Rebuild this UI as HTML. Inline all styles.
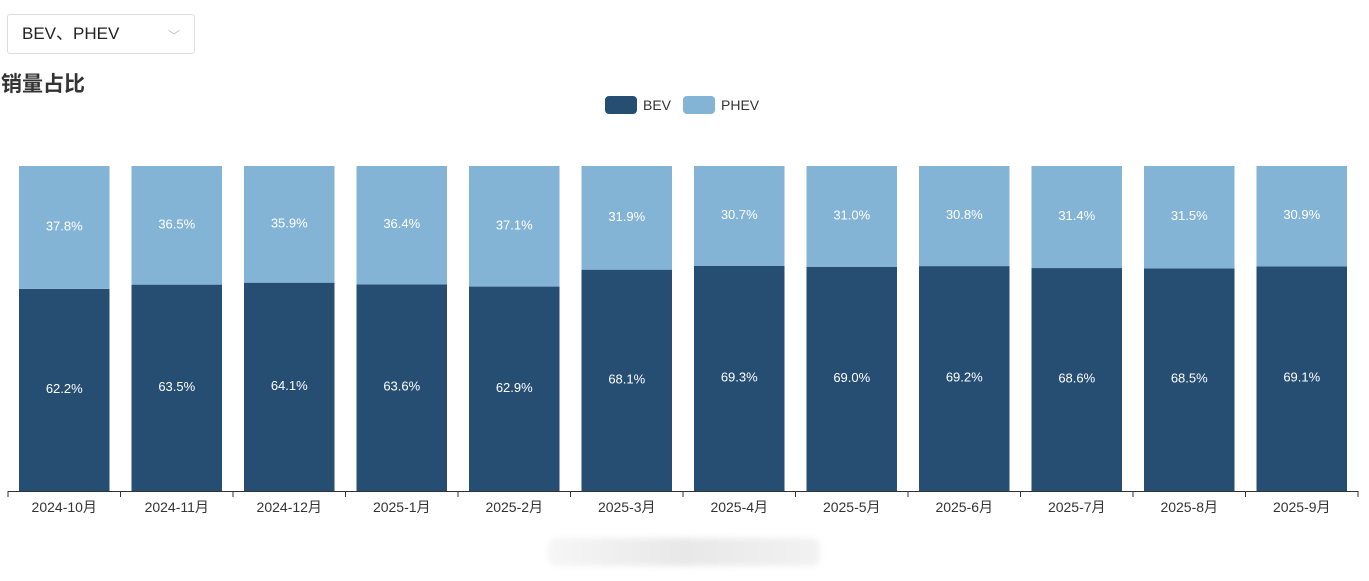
<!DOCTYPE html>
<html><head><meta charset="utf-8"><style>
body{margin:0;width:1369px;height:581px;background:#fff;font-family:"Liberation Sans","Noto Sans CJK SC",sans-serif;overflow:hidden;position:relative}
#sel{position:absolute;left:7px;top:14px;width:188px;height:40px;border:1px solid #ddd;border-radius:3px;box-sizing:border-box;font-size:17px;color:#222;line-height:38px;padding-left:14px}
#sel span{position:absolute;right:14px;top:2px;color:#bbb;font-size:12px}
#title{position:absolute;left:1px;top:68px;font-size:21px;font-weight:bold;color:#333}
#wm{position:absolute;left:548px;top:538px;width:272px;height:28px;background:linear-gradient(90deg,#f6f6f6,#e8e8e8,#f2f2f2);filter:blur(3px);border-radius:8px}
</style></head><body>
<div id="sel">BEV、PHEV<span>﹀</span></div>
<div id="title">销量占比</div>
<div id="wm"></div>
<svg id="chart" width="1369" height="581" style="position:absolute;left:0;top:0">
<g>
<rect x="605" y="96" width="32" height="18" rx="4" fill="#264e73"/>
<text x="643" y="110" font-size="14" fill="#333">BEV</text>
<rect x="683" y="96" width="32" height="18" rx="4" fill="#83b4d6"/>
<text x="721" y="110" font-size="14" fill="#333">PHEV</text>
</g>
</svg>
<script>
const categories=["2024-10月","2024-11月","2024-12月","2025-1月","2025-2月","2025-3月","2025-4月","2025-5月","2025-6月","2025-7月","2025-8月","2025-9月"];
const bevValues=[62.2,63.5,64.1,63.6,62.9,68.1,69.3,69.0,69.2,68.6,68.5,69.1];
const phevValues=[37.8,36.5,35.9,36.4,37.1,31.9,30.7,31.0,30.8,31.4,31.5,30.9];
const svg=document.getElementById('chart');const NS='http://www.w3.org/2000/svg';
const X0=8,X1=1358,Y0=491,Y1=166;
const slot=(X1-X0)/categories.length;
function xs(i){return X0+slot*i;}
function ys(v){return Y0-(Y0-Y1)*v/100;}
function mk(t,a,p){const e=document.createElementNS(NS,t);for(const k in a)e.setAttribute(k,a[k]);(p||svg).appendChild(e);return e;}
const cols=[["bev",bevValues,"#264e73"],["phev",phevValues,"#83b4d6"]];
categories.forEach((c,i)=>{
  let base=0;const bx=xs(i)+11,bw=slot-22;
  cols.forEach(([n,arr,col])=>{
    const v=arr[i];const yt=ys(base+v),yb=ys(base);
    const r=mk('rect',{x:bx,y:yt,width:bw,height:yb-yt,fill:col});
    
    
    const t=mk('text',{x:bx+bw/2,y:(yt+yb)/2+3,'font-size':13,fill:'#fff','text-anchor':'middle'});
    t.textContent=v.toFixed(1)+'%';
    
    
    base+=v;
  });
  const tk=mk('line',{x1:xs(i),x2:xs(i),y1:Y0,y2:Y0+6,stroke:'#333'});
  
  
  const lb=mk('text',{x:xs(i)+slot/2,y:512,'font-size':14,fill:'#333','text-anchor':'middle'});
  lb.textContent=c;
  
  
});
const ax=mk('line',{x1:X0,x2:X1,y1:Y0+0.5,y2:Y0+0.5,stroke:'#333'});


const tl=mk('line',{x1:X1,x2:X1,y1:Y0,y2:Y0+6,stroke:'#333'});


</script>
</body></html>
